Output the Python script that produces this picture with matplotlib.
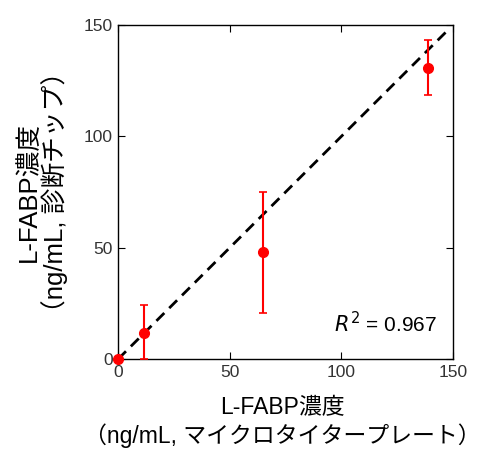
import matplotlib
matplotlib.use("Agg")
import matplotlib.pyplot as plt

plt.rcParams['font.family'] = ['Liberation Sans', 'Noto Sans CJK JP', 'DejaVu Sans']

# microtiter plate vs diagnostic chip
x_plate = [0, 11.4, 64.8, 138.6]
y_chip = [0, 11.7, 48.0, 130.6]
err_low = [0, 11.7, 27.1, 12.2]
err_high = [0, 12.8, 27.2, 12.4]
fit_x = [0, 147]
fit_y = [0, 147]
ticks = [0, 50, 100, 150]

fig = plt.figure(figsize=(4.8, 4.61), dpi=100)
ax = fig.add_axes([0.246, 0.221, 0.698, 0.725])

ax.plot(fit_x, fit_y, color="black", lw=2, dashes=(4, 2.5), zorder=2)
ax.errorbar(x_plate, y_chip, yerr=[err_low, err_high], fmt="none",
            ecolor="red", elinewidth=1.5, capsize=3, capthick=1.2, zorder=3)
ax.plot(x_plate, y_chip, "o", color="red", ms=7, zorder=4, clip_on=False)

ax.set_xlim(0, 150)
ax.set_ylim(0, 150)
ax.set_xticks(ticks)
ax.set_yticks(ticks)
ax.tick_params(direction="in", top=True, right=True, length=5,
               labelsize=12.5, labelcolor="#333333", pad=4)
for s in ax.spines.values():
    s.set_linewidth(1)

ax.text(0.952, 0.07, "$R^2$ = 0.967", transform=ax.transAxes,
        ha="right", va="bottom", fontsize=15)

ax.set_xlabel("L-FABP濃度\n（ng/mL, マイクロタイタープレート）", fontsize=16.5,
              linespacing=1.25)
ax.xaxis.set_label_coords(0.49, -0.11)
ax.set_ylabel("L-FABP濃度\n（ng/mL, 診断チップ）", fontsize=18.5,
              linespacing=1.0)
ax.yaxis.set_label_coords(-0.149, 0.5)

fig.savefig("out.png", dpi=100)
